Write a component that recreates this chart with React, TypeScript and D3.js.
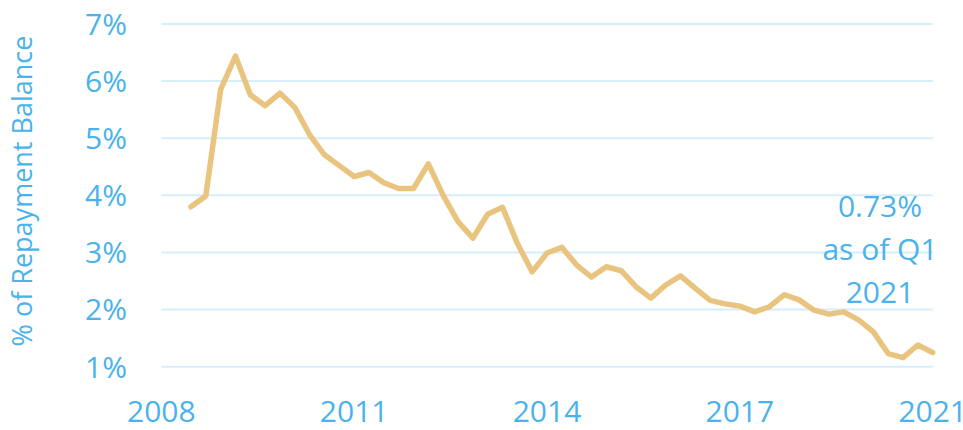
import React from "react";
import * as d3 from "d3";

const quarters: string[] = [];
for (let y = 2008; y <= 2021; y++) {
  for (let q = 1; q <= 4; q++) {
    if (y === 2021 && q > 1) break;
    quarters.push(`${y}Q${q}`);
  }
}

const values: (number | null)[] = [
  null, null,
  3.80, 3.99, 5.85, 6.44, 5.76, 5.57, 5.79, 5.54, 5.06, 4.71,
  4.52, 4.33, 4.40, 4.22, 4.12, 4.12, 4.55, 4.00, 3.54, 3.25,
  3.67, 3.79, 3.16, 2.66, 2.99, 3.09, 2.78, 2.57, 2.75, 2.68,
  2.40, 2.20, 2.43, 2.59, 2.37, 2.16, 2.10, 2.06, 1.96, 2.05,
  2.26, 2.17, 1.99, 1.92, 1.96, 1.82, 1.61, 1.23, 1.16, 1.38,
  1.25,
];

const xTickQuarters = ["2008Q1", "2011Q2", "2014Q3", "2017Q4", "2021Q1"];
const xTickLabels = ["2008", "2011", "2014", "2017", "2021"];
const yTicks = [1, 2, 3, 4, 5, 6, 7];
const annotationLines = ["0.73%", "as of Q1", "2021"];
const yTitle = "% of Repayment Balance";

const W = 963;
const H = 430;
const FONT = "'Open Sans', 'Noto Sans', sans-serif";
const BLUE = "#4AB2EC";
const LINE = "#E9C47F";
const GRID = "#D6EEFA";

export default function App() {
  const x = d3.scalePoint<string>().domain(quarters).range([161.3, 932.7]);
  const y = d3.scaleLinear().domain([1, 7]).range([366.7, 24]);

  const data = quarters.map((q, i) => ({ q, v: values[i] }));
  const line = d3
    .line<{ q: string; v: number | null }>()
    .defined((d) => d.v !== null)
    .x((d) => x(d.q) as number)
    .y((d) => y(d.v as number));

  return (
    <svg
      width={W}
      height={H}
      style={{ position: "absolute", left: 0, top: 0, background: "#fff" }}
      fontFamily={FONT}
    >
      {yTicks.map((t) => (
        <g key={t}>
          <line
            x1={161.3}
            x2={932.7}
            y1={y(t)}
            y2={y(t)}
            stroke={GRID}
            strokeWidth={2}
          />
          <text
            x={127}
            y={y(t)}
            dy="0.36em"
            textAnchor="end"
            fontSize={30}
            fill={BLUE}
          >
            {t}%
          </text>
        </g>
      ))}
      {xTickQuarters.map((q, i) => (
        <text
          key={q}
          x={x(q) as number}
          y={422}
          textAnchor="middle"
          fontSize={30}
          fill={BLUE}
        >
          {xTickLabels[i]}
        </text>
      ))}
      <text
        transform={`translate(32, 191) rotate(-90)`}
        textAnchor="middle"
        fontSize={27}
        fill={BLUE}
      >
        {yTitle}
      </text>
      <path
        d={line(data) || ""}
        fill="none"
        stroke={LINE}
        strokeWidth={5.5}
        strokeLinejoin="round"
        strokeLinecap="round"
      />
      {annotationLines.map((t, i) => (
        <text
          key={i}
          x={880}
          y={216.7 + i * 43.3}
          textAnchor="middle"
          fontSize={30}
          fill={BLUE}
        >
          {t}
        </text>
      ))}
    </svg>
  );
}
